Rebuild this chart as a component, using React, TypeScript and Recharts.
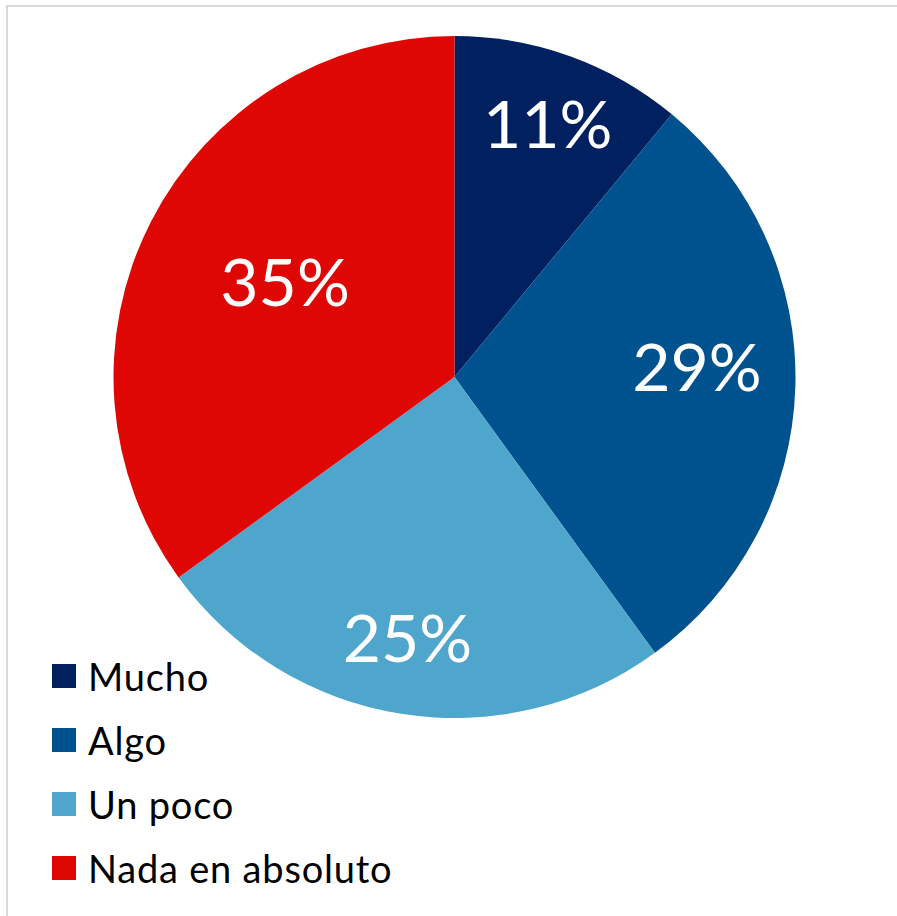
import React from "react";
import { PieChart, Pie, Cell, Legend } from "recharts";

const categories = ["Mucho", "Algo", "Un poco", "Nada en absoluto"];
const values = [11, 29, 25, 35];
const colors = ["#002060", "#00528F", "#4FA6CD", "#DE0704"];
// Excel "best fit" label placement: fraction of radius and angular nudge (deg)
const labelRadius = [0.796, 0.712, 0.772, 0.572];
const labelAngleShift = [-0.3, 4.4, -1.3, -2.7];

const data = categories.map((name, i) => ({ name, value: values[i] }));

const RAD = Math.PI / 180;

const renderLabel = (props: any) => {
  const { cx, cy, midAngle, outerRadius, index, percent } = props;
  const r = outerRadius * labelRadius[index];
  const a = midAngle + labelAngleShift[index];
  const x = cx + r * Math.cos(-a * RAD);
  const y = cy + r * Math.sin(-a * RAD);
  return (
    <text
      x={x}
      y={y}
      fill="#ffffff"
      textAnchor="middle"
      dominantBaseline="central"
      style={{ fontFamily: "Lato, 'Open Sans', sans-serif", fontSize: 66 }}
    >
      {`${Math.round(percent * 100)}%`}
    </text>
  );
};

const renderLegend = (props: any) => {
  const payload: any[] = props.payload || [];
  const ordered = categories
    .map((c) => payload.find((p) => p.value === c))
    .filter(Boolean);
  return (
    <div style={{ display: "flex", flexDirection: "column" }}>
      {ordered.map((entry: any, i: number) => (
        <div
          key={i}
          style={{ display: "flex", alignItems: "center", height: 64 }}
        >
          <div
            style={{
              width: 24,
              height: 24,
              background: entry.color,
              marginRight: 12,
            }}
          />
          <span
            style={{
              fontFamily: "Lato, 'Open Sans', sans-serif",
              fontSize: 38,
              letterSpacing: 0.8,
              color: "#000",
              lineHeight: "38px",
            }}
          >
            {entry.value}
          </span>
        </div>
      ))}
    </div>
  );
};

export default function App() {
  return (
    <div
      style={{
        position: "fixed",
        left: 0,
        top: 0,
        width: 897,
        height: 916,
        background: "#fff",
        overflow: "hidden",
      }}
    >
      <div
        style={{
          position: "absolute",
          left: 6,
          top: 5,
          width: 1000,
          height: 1000,
          borderTop: "2px solid #d9d9d9",
          borderLeft: "2px solid #d9d9d9",
        }}
      />
      <div style={{ position: "absolute", left: 0, top: 0 }}>
        <PieChart
          width={897}
          height={916}
          margin={{ top: 0, right: 0, bottom: 0, left: 0 }}
        >
          <Pie
            data={data}
            dataKey="value"
            nameKey="name"
            cx={454.5}
            cy={377}
            outerRadius={341}
            startAngle={90}
            endAngle={-270}
            stroke="none"
            label={renderLabel}
            labelLine={false}
            isAnimationActive={false}
          >
            {data.map((_, i) => (
              <Cell key={i} fill={colors[i]} />
            ))}
          </Pie>
          <Legend
            layout="horizontal"
            align="center"
            verticalAlign="middle"
            content={renderLegend}
            wrapperStyle={{ left: 52, top: 644, width: "auto" }}
          />
        </PieChart>
      </div>
    </div>
  );
}
